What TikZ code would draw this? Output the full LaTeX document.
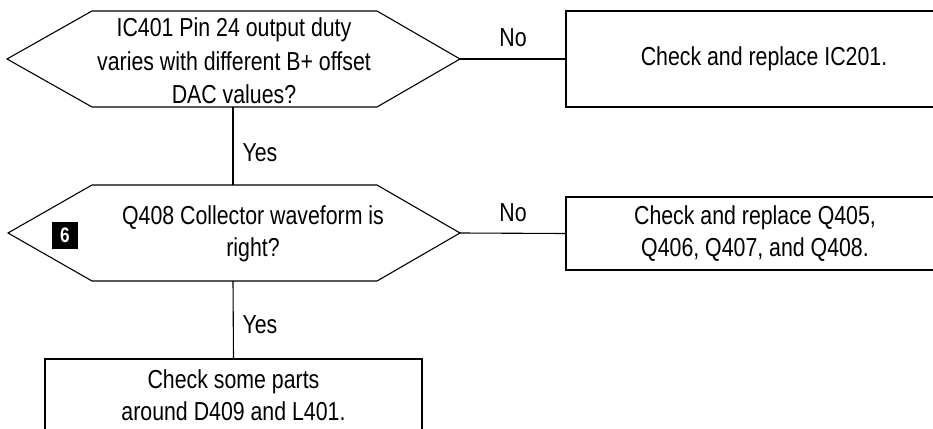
\documentclass[tikz,border=0pt]{standalone}
\usepackage{fontspec}
\setmainfont{Liberation Sans}[FakeStretch=0.82]
\begin{document}
\begin{tikzpicture}[x=1pt,y=-1pt,
  line width=1.1pt,
  every node/.style={font=\fontsize{26}{32}\selectfont, inner sep=0pt},
  txt/.style={align=center},
  actbox/.style={draw, align=center},
  lbl/.style={font=\fontsize{26}{32}\selectfont},
  badge/.style={fill=black, text=white, minimum width=26pt, minimum height=27pt,
                font=\fontsize{21}{21}\selectfont\bfseries}]
  \clip (0,0) rectangle (933,428);
  \fill[white] (0,0) rectangle (933,428);

  % first decision
  \coordinate (q1w) at (7,59);
  \coordinate (q1e) at (460,59);
  \coordinate (q1s) at (233,107);
  \draw (q1w) -- (92,11) -- (377,11) -- (q1e) -- (377,107) -- (92,107) -- cycle;
  \node[txt, font=\fontsize{26}{33.5}\selectfont] (q1) at (234,61) {IC401 Pin 24 output duty\\varies with different B+ offset\\DAC values?};

  % second decision
  \coordinate (q2w) at (8,233);
  \coordinate (q2e) at (460,233);
  \coordinate (q2n) at (233,185);
  \coordinate (q2s) at (233,281);
  \draw (q2w) -- (92,185) -- (377,185) -- (q2e) -- (377,281) -- (92,281) -- cycle;
  \node[txt] (q2) at (253,234) {Q408 Collector waveform is\\right?};
  \node[badge] (b6) at (65,235.5) {6};

  % action boxes
  \node[actbox, minimum width=396pt, minimum height=96pt] (a1) at (764,59) {Check and replace IC201.};
  \node[actbox, minimum width=378pt, minimum height=73pt] (a2) at (755,233.5) {Check and replace Q405,\\Q406, Q407, and Q408.};
  \node[actbox, minimum width=377pt, minimum height=72pt] (a3) at (233.5,395) {Check some parts\\around D409 and L401.};

  % connectors
  \draw (q1e) -- (a1.west);
  \draw (q1s) -- (q2n);
  \draw (q2e) -- (a2.west);
  \draw (q2s) -- (a3.north);

  % branch labels
  \node[lbl] (no1) at (513,38) {No};
  \node[lbl] (yes1) at (260,153) {Yes};
  \node[lbl] (no2) at (513,213) {No};
  \node[lbl] (yes2) at (260,325) {Yes};
\end{tikzpicture}
\end{document}
